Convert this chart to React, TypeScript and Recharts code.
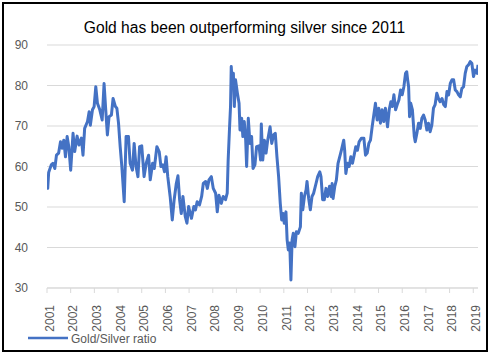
import React from 'react';
import { LineChart, Line, XAxis, YAxis, CartesianGrid } from 'recharts';

const chartTitle = 'Gold has been outperforming silver since 2011';
const seriesName = 'Gold/Silver ratio';

const yearTicks = [2001, 2002, 2003, 2004, 2005, 2006, 2007, 2008, 2009, 2010, 2011, 2012, 2013, 2014, 2015, 2016, 2017, 2018, 2019];
const valueTicks = [30, 40, 50, 60, 70, 80, 90];

const dates2001to2006 = [
  2001.0, 2001.03, 2001.07, 2001.18, 2001.25, 2001.33, 2001.4, 2001.49, 2001.57, 2001.64, 2001.71, 2001.78, 2001.85, 2001.92,
  2002.0, 2002.1, 2002.17, 2002.27, 2002.35, 2002.45, 2002.52, 2002.59, 2002.71, 2002.78, 2002.83, 2002.92, 2002.99,
  2003.06, 2003.13, 2003.23, 2003.33, 2003.41, 2003.48, 2003.55, 2003.62, 2003.72, 2003.79, 2003.89, 2003.95,
  2004.02, 2004.09, 2004.16, 2004.26, 2004.34, 2004.44, 2004.51, 2004.61, 2004.68, 2004.76, 2004.84, 2004.91,
  2005.0, 2005.1, 2005.19, 2005.29, 2005.36, 2005.46, 2005.53, 2005.64, 2005.74, 2005.81, 2005.89, 2005.96,
  2006.03, 2006.1, 2006.2, 2006.29, 2006.37, 2006.46, 2006.53, 2006.6, 2006.67, 2006.74, 2006.84, 2006.91, 2006.98,
];
const ratio2001to2006 = [
  57, 54.6, 58.5, 60.4, 60.8, 59.5, 62.8, 63.3, 66.1, 64.5, 66.5, 62.4, 67.4, 64.9,
  59.1, 68.2, 63.7, 67.5, 65.3, 67, 62.8, 69.4, 71.1, 73.5, 70.2, 74, 74.8,
  79.7, 75.6, 74, 71.5, 80.5, 74, 67.8, 72.3, 72.7, 76.8, 74.8, 74.4,
  70.7, 64.9, 60, 51.3, 67.4, 67.4, 60.8, 59.1, 65.7, 60, 57.5, 64.9,
  65.1, 57.5, 60.8, 62.8, 56.7, 60.8, 59.5, 64.9, 63.6, 60, 60.4, 58.7,
  62.4, 57.5, 52.6, 46.8, 51.8, 55.8, 57.7, 51.8, 48.4, 52.6, 47.6, 46, 50.1,
];

const dates2007to2012 = [
  2007.05, 2007.1, 2007.2, 2007.27, 2007.34, 2007.44, 2007.53, 2007.6, 2007.7, 2007.77, 2007.84, 2007.94,
  2008.02, 2008.12, 2008.19, 2008.26, 2008.36, 2008.44, 2008.54, 2008.61, 2008.65, 2008.71, 2008.75, 2008.78, 2008.82, 2008.87, 2008.91, 2008.96,
  2009.04, 2009.11, 2009.15, 2009.22, 2009.27, 2009.33, 2009.39, 2009.43, 2009.5, 2009.57, 2009.64, 2009.7, 2009.78, 2009.85, 2009.95,
  2010.02, 2010.05, 2010.11, 2010.18, 2010.25, 2010.32, 2010.42, 2010.49, 2010.57, 2010.64, 2010.71, 2010.78, 2010.85, 2010.91, 2010.97,
  2011.02, 2011.09, 2011.14, 2011.19, 2011.25, 2011.3, 2011.35, 2011.4, 2011.47, 2011.53, 2011.61, 2011.7, 2011.74, 2011.8, 2011.87, 2011.94, 2011.98,
  2012.05, 2012.12, 2012.19, 2012.26, 2012.36, 2012.43, 2012.52, 2012.57, 2012.64, 2012.71, 2012.78, 2012.85, 2012.93,
];
const ratio2007to2012 = [
  48.4, 47.2, 50.1, 49.3, 51.3, 50.5, 52.6, 55.8, 56.3, 54.6, 56.7, 57.5,
  54.6, 53.4, 48.8, 52.9, 50.9, 52.6, 51.8, 53.4, 61.6, 69.8, 74.8, 84.7, 80.5, 83, 74.8, 81.4,
  78.1, 75.6, 69, 71.9, 67.4, 71.1, 66.5, 60, 71.9, 65.7, 67.4, 59.5, 60.4, 64.9, 65.1,
  61.6, 70.5, 61.6, 66.5, 63.3, 66.5, 69.8, 65.7, 67.8, 68.2, 62.4, 57.5, 50.9, 46.8, 48.4,
  46, 48.8, 41.9, 39.4, 41.1, 32, 41.9, 43.5, 40.2, 43.9, 43.5, 45.1, 53.4, 49.3, 52.6, 54.2, 56.3,
  52.1, 49.3, 52.6, 53.4, 55.8, 57.5, 58.7, 57.5, 51.8, 51.8, 54.6, 52.6, 55.1,
];

const dates2013to2019 = [
  2013.0, 2013.04, 2013.08, 2013.15, 2013.22, 2013.29, 2013.36, 2013.43, 2013.53, 2013.57, 2013.62, 2013.69, 2013.76, 2013.83, 2013.9, 2013.97,
  2014.04, 2014.11, 2014.18, 2014.28, 2014.38, 2014.45, 2014.52, 2014.59, 2014.66, 2014.73, 2014.8, 2014.87, 2014.94,
  2015.01, 2015.08, 2015.15, 2015.22, 2015.29, 2015.38, 2015.45, 2015.52, 2015.58, 2015.65, 2015.72, 2015.79, 2015.86, 2015.93,
  2016.0, 2016.07, 2016.14, 2016.19, 2016.23, 2016.27, 2016.31, 2016.36, 2016.43, 2016.51, 2016.55, 2016.62, 2016.69, 2016.76, 2016.83, 2016.9, 2016.97,
  2017.04, 2017.11, 2017.18, 2017.25, 2017.32, 2017.39, 2017.46, 2017.53, 2017.6, 2017.68, 2017.75, 2017.82, 2017.89, 2017.96,
  2018.03, 2018.1, 2018.17, 2018.24, 2018.31, 2018.38, 2018.45, 2018.52, 2018.59, 2018.66, 2018.73, 2018.8, 2018.87, 2018.94,
  2019.01, 2019.08, 2019.16, 2019.2,
];
const ratio2013to2019 = [
  52.6, 55.8, 52.1, 55, 56.7, 60.8, 62.4, 64, 66.5, 64, 58.3, 60.8, 60, 62.4, 60.8, 62.8,
  64.9, 64, 66.1, 67, 67, 62.8, 63.3, 65.7, 66.5, 69.8, 72.7, 75.6, 71.5,
  74.4, 70.7, 74, 71.1, 74.4, 69.8, 74, 76, 74.8, 77.7, 74, 75.3, 76.4, 78.9,
  77.7, 79.7, 83, 83.4, 81.4, 79.7, 72.3, 75.6, 74, 67.4, 66.1, 68.2, 70.7, 69.4, 71.9, 72.7, 71.5,
  69, 70.7, 68.6, 70.2, 74.4, 75.3, 78.1, 76.8, 76, 76.8, 75.3, 74.8, 78.5, 77.7,
  80.5, 81.4, 81.4, 78.9, 78.5, 77.7, 77.2, 79.3, 79.7, 83, 84.7, 85.1, 85.9, 85.5,
  82.2, 83.8, 83, 85.1,
];

const allDates = [...dates2001to2006, ...dates2007to2012, ...dates2013to2019];
const allRatios = [...ratio2001to2006, ...ratio2007to2012, ...ratio2013to2019];
const data = allDates.map((d, i) => ({ date: d, ratio: allRatios[i] }));

const FONT = '"Liberation Sans", Arial, sans-serif';
const LABEL = '#595959';
const GRID = '#d9d9d9';
const LINE = '#4472C4';

const XTick = (props: any) => {
  const { x, y, payload } = props;
  return (
    <text
      transform={`translate(${x + 6.7}, ${y + 12}) rotate(-90)`}
      textAnchor="end"
      fontSize={12}
      fontFamily={FONT}
      fill={LABEL}
    >
      {payload.value}
    </text>
  );
};

const YTick = (props: any) => {
  const { y, payload } = props;
  return (
    <text x={28} y={y} dy={4.3} textAnchor="end" fontSize={12} fontFamily={FONT} fill={LABEL}>
      {payload.value}
    </text>
  );
};

export default function App() {
  return (
    <div style={{ position: 'absolute', left: 0, top: 0, width: 491, height: 355, background: '#fff' }}>
      <LineChart
        width={491}
        height={355}
        data={data}
        margin={{ top: 45, right: 13, bottom: 0, left: 0 }}
      >
        <CartesianGrid vertical={false} stroke={GRID} strokeWidth={1} />
        <XAxis
          dataKey="date"
          type="number"
          domain={[2001, 2019.2]}
          ticks={yearTicks}
          interval={0}
          allowDataOverflow
          height={67}
          tickSize={5}
          tickMargin={0}
          tickLine={{ stroke: GRID }}
          axisLine={{ stroke: GRID }}
          tick={<XTick />}
        />
        <YAxis
          type="number"
          domain={[30, 90]}
          ticks={valueTicks}
          interval={0}
          width={47}
          axisLine={false}
          tickLine={false}
          tick={<YTick />}
        />
        <Line
          type="linear"
          dataKey="ratio"
          name={seriesName}
          stroke={LINE}
          strokeWidth={3}
          strokeLinejoin="round"
          dot={false}
          isAnimationActive={false}
        />
      </LineChart>
      <svg
        width={491}
        height={355}
        style={{ position: 'absolute', left: 0, top: 0, pointerEvents: 'none' }}
      >
        <text x={244.5} y={33} textAnchor="middle" fontSize={15.6} fontFamily={FONT} fill="#000">
          {chartTitle}
        </text>
        <line x1={28} x2={68} y1={338} y2={338} stroke={LINE} strokeWidth={2.5} />
        <text x={71} y={343} fontSize={12} fontFamily={FONT} fill={LABEL}>
          {seriesName}
        </text>
      </svg>
      <div
        style={{
          position: 'absolute',
          left: 2,
          top: 2,
          width: 486,
          height: 350,
          border: '2px solid #000',
          boxSizing: 'border-box',
          pointerEvents: 'none',
        }}
      />
    </div>
  );
}
